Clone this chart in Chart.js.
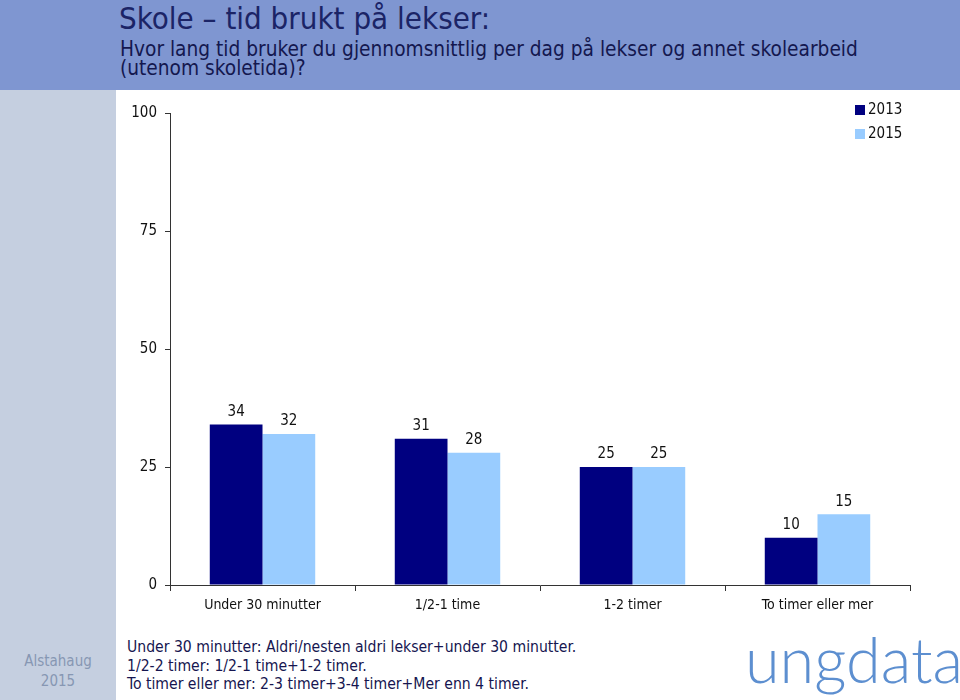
<!DOCTYPE html>
<html>
<head>
<meta charset="utf-8">
<script src="https://cdn.jsdelivr.net/npm/chart.js@4.4.1/dist/chart.umd.min.js"></script>
<style>
  body { margin: 0; width: 960px; height: 700px; position: relative; background: #fff; overflow: hidden;
         font-family: "DejaVu Sans Condensed", "DejaVu Sans", sans-serif; }
  #header { position: absolute; left: 0; top: 0; width: 960px; height: 90px; background: #7f96d1; }
  #side { position: absolute; left: 0; top: 90px; width: 116px; height: 610px; background: #c5cfe0; }
  #title { position: absolute; left: 119px; top: 0px; font-size: 31px; color: #1b2466; white-space: nowrap; }
  #subtitle { position: absolute; left: 120px; top: 40px; font-size: 20.7px; line-height: 19px; color: #14184f; white-space: nowrap; }
  #place { position: absolute; left: 0; top: 651px; width: 116px; text-align: center; font-size: 15px; line-height: 20px; color: #8797b3; }
  #notes { position: absolute; left: 127px; top: 638px; font-size: 15.6px; line-height: 18.5px; color: #161650; white-space: nowrap; }
  #logo { position: absolute; left: 745px; top: 621px; font-family: "Lato", "Open Sans", sans-serif; font-weight: 300;
          font-size: 63px; line-height: normal; color: #5d8fd0; white-space: nowrap; }
  #wrap { position: absolute; left: 110px; top: 90px; width: 850px; height: 545px; }
</style>
</head>
<body>
<div id="header"></div>
<div id="side"></div>
<div id="title">Skole – tid brukt på lekser:</div>
<div id="subtitle">Hvor lang tid bruker du gjennomsnittlig per dag på lekser og annet skolearbeid<br>(utenom skoletida)?</div>
<div id="place">Alstahaug<br>2015</div>
<div id="notes">Under 30 minutter: Aldri/nesten aldri lekser+under 30 minutter.<br>1/2-2 timer: 1/2-1 time+1-2 timer.<br>To timer eller mer: 2-3 timer+3-4 timer+Mer enn 4 timer.</div>
<div id="logo">ungdata</div>
<div id="wrap"><canvas id="barChart" width="850" height="545"></canvas></div>
<script>
// data
var categories = ['Under 30 minutter', '1/2-1 time', '1-2 timer', 'To timer eller mer'];
var values2013 = [34, 31, 25, 10];
var values2015 = [32, 28, 25, 15];
var yTicks = [0, 25, 50, 75, 100];

Chart.defaults.font.family = '"DejaVu Sans Condensed", "DejaVu Sans", sans-serif';
Chart.defaults.color = '#111';

// numbers above each bar
var valueLabels = {
    id: 'valueLabels',
    afterDatasetsDraw: function(chart) {
        var ctx = chart.ctx;
        ctx.save();
        ctx.font = '15px "DejaVu Sans Condensed", "DejaVu Sans", sans-serif';
        ctx.fillStyle = '#111';
        ctx.textAlign = 'center';
        ctx.textBaseline = 'bottom';
        chart.data.datasets.forEach(function(ds, i) {
            chart.getDatasetMeta(i).data.forEach(function(bar, j) {
                ctx.fillText(ds.data[j], bar.x, bar.y - 5);
            });
        });
        ctx.restore();
    }
};

// small legend in the top right corner
var cornerLegend = {
    id: 'cornerLegend',
    afterDraw: function(chart) {
        var ctx = chart.ctx;
        var x = chart.chartArea.right - 55;
        var y = chart.chartArea.top - 3;
        ctx.save();
        ctx.font = '15px "DejaVu Sans Condensed", "DejaVu Sans", sans-serif';
        ctx.textBaseline = 'middle';
        chart.data.datasets.forEach(function(ds, i) {
            ctx.fillStyle = ds.backgroundColor;
            ctx.fillRect(x, y + i * 24 - 5, 10, 10);
            ctx.fillStyle = '#111';
            ctx.fillText(ds.label, x + 13, y + i * 24);
        });
        ctx.restore();
    }
};

var ctx = document.getElementById('barChart').getContext('2d');
window.myChart = new Chart(ctx, {
    type: 'bar',
    data: {
        labels: categories,
        datasets: [
            { label: '2013', data: values2013, backgroundColor: '#000080', categoryPercentage: 0.57, barPercentage: 1.0 },
            { label: '2015', data: values2015, backgroundColor: '#99ccff', categoryPercentage: 0.57, barPercentage: 1.0 }
        ]
    },
    options: {
        responsive: false,
        animation: false,
        layout: { padding: { top: 23, right: 50, left: 0, bottom: 0 } },
        plugins: { legend: { display: false }, tooltip: { enabled: false } },
        scales: {
            x: {
                grid: { drawOnChartArea: false, tickLength: 6, tickColor: '#333', offset: true },
                border: { color: '#333' },
                ticks: { font: { size: 14 }, color: '#111', padding: 6, maxRotation: 0 },
                afterFit: function(scale) { scale.height = 50; }
            },
            y: {
                min: 0,
                max: 100,
                afterBuildTicks: function(scale) {
                    scale.ticks = yTicks.map(function(v) { return { value: v }; });
                },
                grid: { drawOnChartArea: false, tickLength: 5, tickColor: '#333' },
                border: { color: '#333' },
                ticks: { font: { size: 15 }, color: '#111', padding: 8 },
                afterFit: function(scale) { scale.width = 60; }
            }
        }
    },
    plugins: [valueLabels, cornerLegend]
});
</script>
</body>
</html>
